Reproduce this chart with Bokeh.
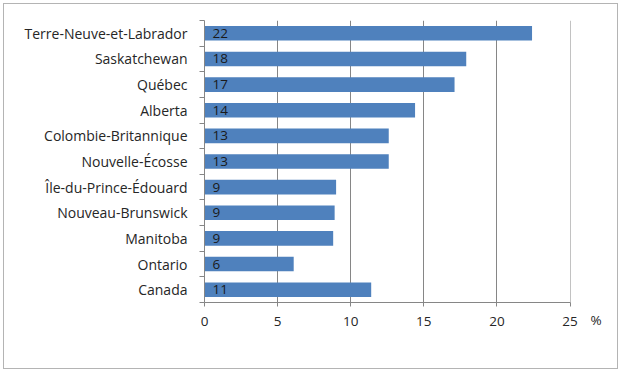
from bokeh.plotting import figure
from bokeh.models import ColumnDataSource, FixedTicker, Title
from bokeh.core.properties import value
from bokeh.embed import file_html
from bokeh.resources import INLINE

# Data (top to bottom as shown)
provinces = ["Terre-Neuve-et-Labrador", "Saskatchewan", "Québec", "Alberta",
             "Colombie-Britannique", "Nouvelle-Écosse", "Île-du-Prince-Édouard",
             "Nouveau-Brunswick", "Manitoba", "Ontario", "Canada"]
values = [22.4, 17.9, 17.1, 14.4, 12.6, 12.6, 9.0, 8.9, 8.8, 6.1, 11.4]
value_labels = ["22", "18", "17", "14", "13", "13", "9", "9", "9", "6", "11"]
x_ticks = [0, 5, 10, 15, 20, 25]
unit_label = "%"

n = len(provinces)
ypos = [n - 1 - i + 0.5 for i in range(n)]

src = ColumnDataSource(dict(y=ypos, v=values, lab=value_labels, name=provinces))

FONT = "Open Sans"
FS = "13.5px"
p = figure(width=621, height=372, output_backend="svg", toolbar_location=None,
           x_range=(0, 25.03), y_range=(0, n),
           min_border_left=204, min_border_right=51, min_border_top=20,
           min_border_bottom=70)
p.outline_line_color = None
p.border_fill_color = None
p.background_fill_color = None
p.styles = {"outline": "1px solid #b4b4b4", "outline-offset": "-4px",
            "background-color": "white"}

p.hbar(y="y", left=0, right="v", height=0.57, source=src,
       fill_color="#4F81BD", line_color=None)
p.text(x=0, y="y", text="lab", source=src, x_offset=8,
       text_align="left", text_baseline="middle",
       text_font=value(FONT), text_font_size=FS, text_color="#1a1a1a")

# x axis
p.xaxis.ticker = FixedTicker(ticks=x_ticks)
p.xaxis.axis_line_color = "#868686"
p.xaxis.major_tick_line_color = "#868686"
p.xaxis.major_tick_out = 4
p.xaxis.major_tick_in = 0
p.xaxis.minor_tick_line_color = None
p.xaxis.major_label_standoff = 10
p.xaxis.major_label_text_font = FONT
p.xaxis.major_label_text_font_size = FS
p.xaxis.major_label_text_color = "#262626"

# y axis: labels at centers, ticks between categories
p.yaxis.ticker = FixedTicker(ticks=ypos, minor_ticks=list(range(n + 1)))
p.yaxis.major_label_overrides = {y: name for y, name in zip(ypos, provinces)}
p.yaxis.axis_line_color = "#868686"
p.yaxis.major_tick_line_color = None
p.yaxis.major_tick_out = 0
p.yaxis.major_tick_in = 0
p.yaxis.minor_tick_line_color = "#868686"
p.yaxis.minor_tick_out = 5
p.yaxis.minor_tick_in = 0
p.yaxis.major_label_standoff = 12
p.yaxis.major_label_text_font = FONT
p.yaxis.major_label_text_font_size = "14px"
p.yaxis.major_label_text_color = "#262626"

p.xgrid.ticker = FixedTicker(ticks=x_ticks[1:])
p.xgrid.grid_line_color = "#868686"
p.ygrid.grid_line_color = None

p.add_layout(Title(text=unit_label, align="left", offset=386, standoff=-36,
                   vertical_align="top",
                   text_font=FONT, text_font_size=FS, text_font_style="normal",
                   text_color="#262626"), "below")

open("out.html", "w").write(file_html(p, INLINE))
